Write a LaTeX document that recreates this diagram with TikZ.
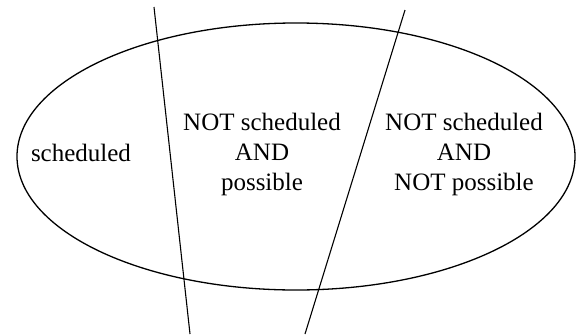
\documentclass[tikz,border=0pt]{standalone}
\usepackage{fontspec}
\setmainfont{Liberation Serif}
\usepackage{tikz}
\usetikzlibrary{positioning}

\begin{document}
\begin{tikzpicture}[x=1pt,y=-1pt,
  region/.style={align=center,inner sep=0pt,font=\fontsize{25}{30}\selectfont}]
\useasboundingbox (0,0) rectangle (583,335);

\draw[line width=1.3pt] (296,156.5) ellipse [x radius=279, y radius=133.5];

\coordinate (a1) at (154,7);
\coordinate (a2) at (190,334);
\coordinate (b1) at (405,10);
\coordinate (b2) at (305,334);
\draw[line width=1.1pt] (a1) -- (a2);
\draw[line width=1.1pt] (b1) -- (b2);

\node[region] (sched) at (81,152.5) {scheduled};
\node[region] (notposs) at (262,154) {NOT scheduled\\AND\\possible};
\node[region] (notnot) at (464,154) {NOT scheduled\\AND\\NOT possible};
\end{tikzpicture}
\end{document}
